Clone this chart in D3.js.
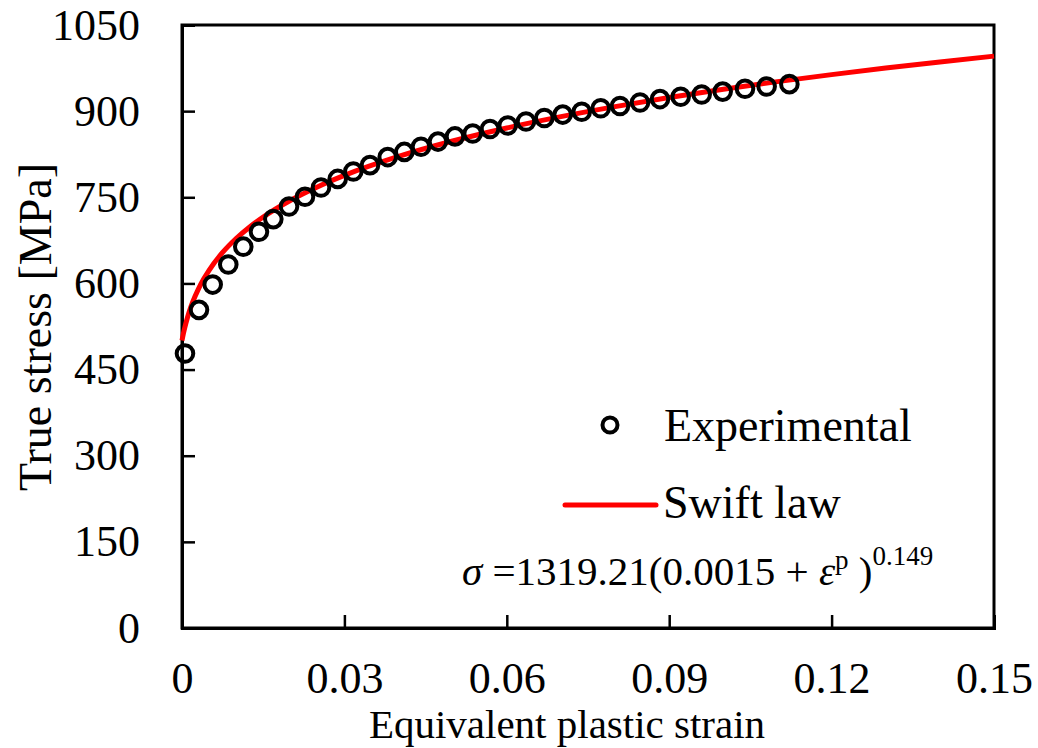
<!DOCTYPE html>
<html>
<head>
<meta charset="utf-8">
<script src="https://cdn.jsdelivr.net/npm/d3@7"></script>
<style>
  html, body { margin: 0; padding: 0; background: #fff; }
  svg { display: block; }
  text { font-family: "Liberation Serif", "Times New Roman", serif; fill: #000; }
</style>
</head>
<body>
<svg id="chart" width="1038" height="748"></svg>
<script>
// Experimental flow curve (equivalent plastic strain, true stress in MPa)
const expStrain = [0.00055, 0.00314, 0.00567, 0.00855, 0.01132, 0.01422, 0.01687, 0.01977,
  0.02272, 0.02568, 0.02876, 0.03165, 0.03473, 0.0380, 0.04107, 0.04415, 0.04729, 0.05043,
  0.0537, 0.0569, 0.06017, 0.06355, 0.06693, 0.07033, 0.07384, 0.07735, 0.08091, 0.08461,
  0.0883, 0.09212, 0.0960, 0.09988, 0.1040, 0.1080, 0.1122];
const expStress = [478, 554, 598, 633, 664, 690, 712, 734,
  751, 767, 782, 795, 806, 820, 829, 838, 847, 856,
  861, 869, 875, 882, 888, 894, 899, 905, 909, 915,
  921, 925, 929, 934, 939, 943, 947];

// Swift law fit, sampled along the strain range
const swiftStrain = [0, 0.00025, 0.0005, 0.001, 0.0015, 0.002, 0.003, 0.004, 0.005, 0.0075,
  0.01, 0.0125, 0.015, 0.02, 0.025, 0.03, 0.04, 0.05, 0.06, 0.07, 0.08, 0.09, 0.10,
  0.11, 0.12, 0.13, 0.14, 0.15];
const swiftStress = [500.7, 512.3, 522.6, 540.3, 555.2, 568.1, 589.7, 607.6, 622.9, 653.9,
  678.2, 698.4, 715.7, 744.5, 768.0, 788.1, 821.1, 848.0, 870.7, 890.4, 907.9, 923.7, 938.1,
  951.4, 963.6, 975.0, 985.7, 995.8];

// Axis ticks
const xTicks = [0, 0.03, 0.06, 0.09, 0.12, 0.15];
const xTickLabels = ["0", "0.03", "0.06", "0.09", "0.12", "0.15"];
const yTicks = [0, 150, 300, 450, 600, 750, 900, 1050];

const svg = d3.select("#chart");
const margin = { left: 182, top: 25, right: 44, bottom: 120 };
const W = 1038, H = 748;
const iw = W - margin.left - margin.right;   // 812
const ih = H - margin.top - margin.bottom;   // 603

const x = d3.scaleLinear().domain([0, 0.15]).range([0, iw]);
const y = d3.scaleLinear().domain([0, 1050]).range([ih, 0]);

const g = svg.append("g").attr("transform", `translate(${margin.left},${margin.top})`);

// Frame
g.append("rect")
  .attr("x", 0).attr("y", 0).attr("width", iw).attr("height", ih)
  .attr("fill", "none").attr("stroke", "#000").attr("stroke-width", 3);

// X axis with inward ticks
const xAxis = d3.axisBottom(x)
  .tickValues(xTicks)
  .tickSize(-13)
  .tickPadding(34)
  .tickFormat((d, i) => xTickLabels[i]);
const gx = g.append("g").attr("transform", `translate(0,${ih})`).call(xAxis);
gx.select(".domain").attr("stroke-width", 3);
gx.selectAll(".tick line").attr("stroke-width", 2.5);
gx.selectAll(".tick text").attr("font-size", 44).attr("font-family", "Liberation Serif");

// Y axis with inward ticks
const yAxis = d3.axisLeft(y)
  .tickValues(yTicks)
  .tickSize(-13)
  .tickPadding(42)
  .tickFormat(d3.format("d"));
const gy = g.append("g").call(yAxis);
gy.select(".domain").attr("stroke-width", 3);
gy.selectAll(".tick line").attr("stroke-width", 2.5);
gy.selectAll(".tick text").attr("font-size", 44).attr("font-family", "Liberation Serif");

// Swift law curve
const swiftData = swiftStrain.map((s, i) => [s, swiftStress[i]]);
const line = d3.line()
  .x(d => x(d[0]))
  .y(d => y(d[1]))
  .curve(d3.curveMonotoneX);
g.append("path")
  .datum(swiftData)
  .attr("d", line)
  .attr("fill", "none")
  .attr("stroke", "#ff0000")
  .attr("stroke-width", 5);

// Experimental points
const expData = expStrain.map((s, i) => [s, expStress[i]]);
g.selectAll("circle.exp")
  .data(expData)
  .enter().append("circle")
  .attr("class", "exp")
  .attr("cx", d => x(d[0]))
  .attr("cy", d => y(d[1]))
  .attr("r", 8.3)
  .attr("fill", "none")
  .attr("stroke", "#000")
  .attr("stroke-width", 4);

// Axis titles
svg.append("text")
  .attr("x", 567).attr("y", 738)
  .attr("text-anchor", "middle")
  .attr("font-size", 41)
  .text("Equivalent plastic strain");

svg.append("text")
  .attr("transform", "translate(51,327) rotate(-90)")
  .attr("text-anchor", "middle")
  .attr("font-size", 46)
  .text("True stress [MPa]");

// Legend
const leg = svg.append("g");
leg.append("circle")
  .attr("cx", 610).attr("cy", 425).attr("r", 7.5)
  .attr("fill", "none").attr("stroke", "#000").attr("stroke-width", 4);
leg.append("text")
  .attr("x", 664).attr("y", 441)
  .attr("font-size", 46)
  .text("Experimental");
leg.append("line")
  .attr("x1", 565).attr("x2", 656).attr("y1", 505).attr("y2", 505)
  .attr("stroke", "#ff0000").attr("stroke-width", 5).attr("stroke-linecap", "round");
leg.append("text")
  .attr("x", 663).attr("y", 518)
  .attr("font-size", 46)
  .text("Swift law");

// Fitted equation
const eq = svg.append("text")
  .attr("x", 462).attr("y", 585)
  .attr("font-size", 41);
eq.append("tspan").attr("font-style", "italic").text("σ");
eq.append("tspan").text(" =1319.21(0.0015 + ");
eq.append("tspan").attr("font-style", "italic").text("ε");
eq.append("tspan").attr("font-size", 27).attr("dy", -16).text("p");
eq.append("tspan").attr("dy", 16).text("  )");
eq.append("tspan").attr("font-size", 27).attr("dy", -20).text("0.149");
</script>
</body>
</html>
